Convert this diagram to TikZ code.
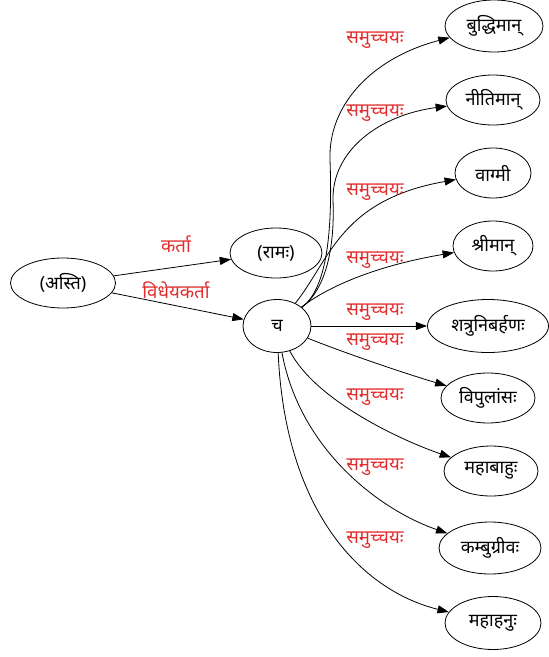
\documentclass[tikz,border=0pt]{standalone}
\usepackage{fontspec}
\newfontfamily\deva[Script=Devanagari]{Noto Sans}
\usetikzlibrary{shapes.geometric,arrows.meta}
\definecolor{lblred}{RGB}{225,45,45}
\begin{document}
\begin{tikzpicture}[x=0.75pt,y=-0.75pt,
  nd/.style={draw, ellipse, inner sep=0pt, font=\deva\fontsize{13.5}{15}\selectfont, line width=0.6pt},
  lbl/.style={text=lblred, font=\deva\fontsize{14}{15}\selectfont, inner sep=0pt},
  edge/.style={-{Triangle[length=8.5pt,width=6pt]}, line width=0.6pt}]
\useasboundingbox (0,0) rectangle (549,657);
\node[nd, minimum width=78.75pt, minimum height=37.5pt] (asti) at (63,283) {(अस्ति)};
\node[nd, minimum width=69pt, minimum height=37.5pt] (ram) at (276,253) {(रामः)};
\node[nd, minimum width=51pt, minimum height=39.75pt] (ch) at (277,326) {च};
\node[nd, minimum width=73.5pt, minimum height=39pt] (n1) at (494,26) {बुद्धिमान्};
\node[nd, minimum width=70.5pt, minimum height=37.5pt] (n2) at (493,100) {नीतिमान्};
\node[nd, minimum width=57pt, minimum height=37.5pt] (n3) at (493,173) {वाग्मी};
\node[nd, minimum width=60pt, minimum height=37.5pt] (n4) at (493,246) {श्रीमान्};
\node[nd, minimum width=90.75pt, minimum height=39.75pt] (n5) at (488,326) {शत्रुनिबर्हणः};
\node[nd, minimum width=70.5pt, minimum height=37.5pt] (n6) at (488,398) {विपुलांसः};
\node[nd, minimum width=70.5pt, minimum height=37.5pt] (n7) at (491,471) {महाबाहुः};
\node[nd, minimum width=76.5pt, minimum height=39pt] (n8) at (490,548) {कम्बुग्रीवः};
\node[nd, minimum width=72pt, minimum height=39.75pt] (n9) at (493,623) {महाहनुः};

\draw[edge] (asti) -- (ram);
\draw[edge] (asti) -- (ch);
\draw[edge] (ch) .. controls (325,290) and (333,240) .. (330,160) .. controls (328,105) and (372,58) .. (n1);
\draw[edge] (ch) .. controls (325,290) and (335,250) .. (333,200) .. controls (332,150) and (380,115) .. (n2);
\draw[edge] (ch) .. controls (330,260) and (340,200) .. (n3);
\draw[edge] (ch) .. controls (330,285) and (380,265) .. (n4);
\draw[edge] (ch) -- (n5);
\draw[edge] (ch) .. controls (350,355) and (410,375) .. (n6);
\draw[edge] (ch) .. controls (315,400) and (400,440) .. (n7);
\draw[edge] (ch) .. controls (300,450) and (380,510) .. (n8);
\draw[edge] (ch) .. controls (285,510) and (360,590) .. (n9);

\node[lbl] (l0) at (176,244) {कर्ता};
\node[lbl] (l00) at (176,290) {विधेयकर्ता};
\node[lbl] (l1) at (375,40) {समुच्चयः};
\node[lbl] (l2) at (375,113) {समुच्चयः};
\node[lbl] (l3) at (375,192) {समुच्चयः};
\node[lbl] (l4) at (375,260) {समुच्चयः};
\node[lbl] (l5) at (375,312) {समुच्चयः};
\node[lbl] (l6) at (375,342) {समुच्चयः};
\node[lbl] (l7) at (375,397) {समुच्चयः};
\node[lbl] (l8) at (375,467) {समुच्चयः};
\node[lbl] (l9) at (375,540) {समुच्चयः};
\end{tikzpicture}
\end{document}
